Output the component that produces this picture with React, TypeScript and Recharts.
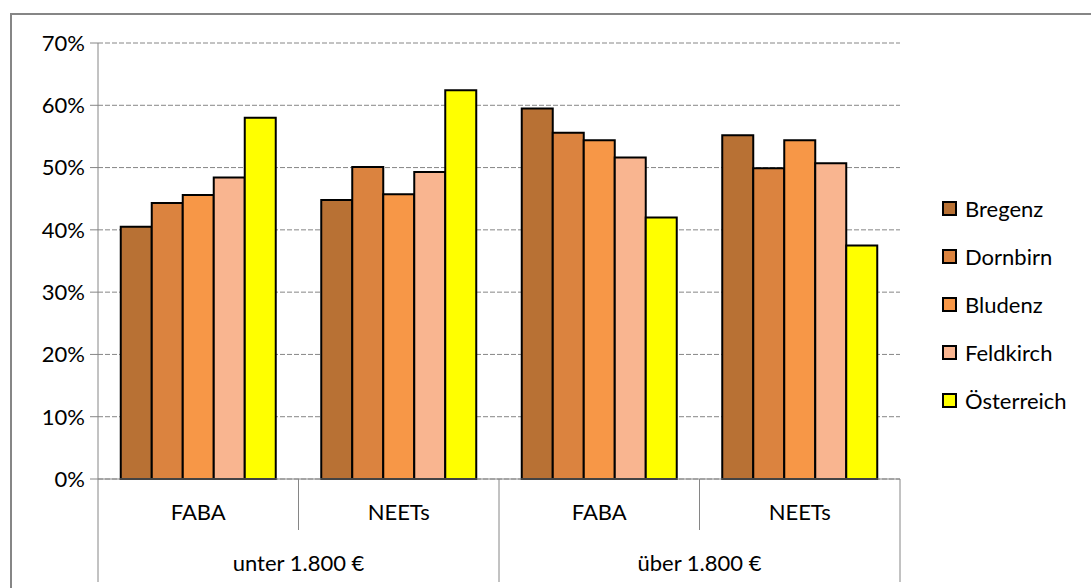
import React from "react";
import { BarChart, Bar, XAxis, YAxis, CartesianGrid } from "recharts";

const categories = ["FABA", "NEETs", "FABA", "NEETs"];
const incomeGroups = ["unter 1.800 €", "über 1.800 €"];

const bregenz = [40.5, 44.8, 59.5, 55.2];
const dornbirn = [44.3, 50.1, 55.6, 49.9];
const bludenz = [45.6, 45.7, 54.4, 54.4];
const feldkirch = [48.4, 49.3, 51.6, 50.7];
const oesterreich = [58.0, 62.4, 42.0, 37.5];

const yTicks = [0, 10, 20, 30, 40, 50, 60, 70];

const series = [
  { key: "Bregenz", values: bregenz, color: "#B87134" },
  { key: "Dornbirn", values: dornbirn, color: "#DB833F" },
  { key: "Bludenz", values: bludenz, color: "#F79747" },
  { key: "Feldkirch", values: feldkirch, color: "#F9B590" },
  { key: "Österreich", values: oesterreich, color: "#FFFF00" },
];

const data = categories.map((cat, i) => {
  const row: Record<string, any> = { cat, idx: i };
  series.forEach((s) => (row[s.key] = s.values[i]));
  return row;
});

const W = 1091;
const H = 588;
const LEFT = 98;
const RIGHT = 191;
const TOP = 43;
const XAXIS_H = 109;
const BAND = (W - LEFT - RIGHT) / categories.length;
const GRAY = "#868686";
const FONT = "Lato, 'Noto Sans', sans-serif";

// two-level category axis: inner label + separators, outer group label every second band
const CategoryTick = (props: any) => {
  const { x, y, payload, index } = props;
  const left = x - BAND / 2;
  const isGroupStart = index % 2 === 0;
  const isLast = index === categories.length - 1;
  return (
    <g>
      <line x1={left} y1={y} x2={left} y2={y + (isGroupStart ? 103 : 51)} stroke={GRAY} />
      {isLast && <line x1={left + BAND} y1={y} x2={left + BAND} y2={y + 103} stroke={GRAY} />}
      <text x={x} y={y + 41} textAnchor="middle" fontSize={22} fontFamily={FONT} fill="#000">
        {payload.value}
      </text>
      {isGroupStart && (
        <text x={left + BAND} y={y + 92} textAnchor="middle" fontSize={22} fontFamily={FONT} fill="#000">
          {incomeGroups[index / 2]}
        </text>
      )}
    </g>
  );
};

const SeriesLegend = () => (
  <div
    style={{
      position: "absolute",
      left: 942,
      top: 184,
      fontFamily: FONT,
      fontSize: 22,
      color: "#000",
    }}
  >
    {series.map((s) => (
      <div key={s.key} style={{ display: "flex", alignItems: "center", height: 48 }}>
        <span
          style={{
            width: 11,
            height: 11,
            background: s.color,
            border: "2px solid #000",
            marginRight: 8,
          }}
        />
        <span>{s.key}</span>
      </div>
    ))}
  </div>
);

export default function App() {
  return (
    <div
      style={{
        position: "absolute",
        left: 0,
        top: 0,
        width: W,
        height: H,
        overflow: "hidden",
        background: "#fff",
      }}
    >
      {/* chart frame: only top and left edges fall inside the canvas */}
      <div
        style={{
          position: "absolute",
          left: 10,
          top: 13,
          width: W,
          height: H,
          borderTop: `2px solid ${GRAY}`,
          borderLeft: `2px solid ${GRAY}`,
        }}
      />
      <BarChart
        width={W}
        height={H}
        data={data}
        margin={{ top: TOP, right: RIGHT, left: 0, bottom: 0 }}
        barCategoryGap={22.75}
        barGap={0}
      >
        <CartesianGrid vertical={false} stroke={GRAY} strokeDasharray="5 2" />
        <YAxis
          width={LEFT}
          domain={[0, 70]}
          ticks={yTicks}
          interval={0}
          tickFormatter={(v) => `${v}%`}
          axisLine={{ stroke: GRAY }}
          tickLine={{ stroke: GRAY }}
          tickSize={8}
          tickMargin={5}
          tick={{ fontSize: 22, fontFamily: FONT, fill: "#000" }}
        />
        <XAxis
          dataKey="cat"
          height={XAXIS_H}
          interval={0}
          axisLine={{ stroke: GRAY }}
          tickLine={false}
          tickSize={0}
          tickMargin={0}
          tick={<CategoryTick />}
        />
        {series.map((s) => (
          <Bar
            key={s.key}
            dataKey={s.key}
            fill={s.color}
            stroke="#000"
            strokeWidth={2}
            isAnimationActive={false}
          />
        ))}
      </BarChart>
      <SeriesLegend />
    </div>
  );
}
